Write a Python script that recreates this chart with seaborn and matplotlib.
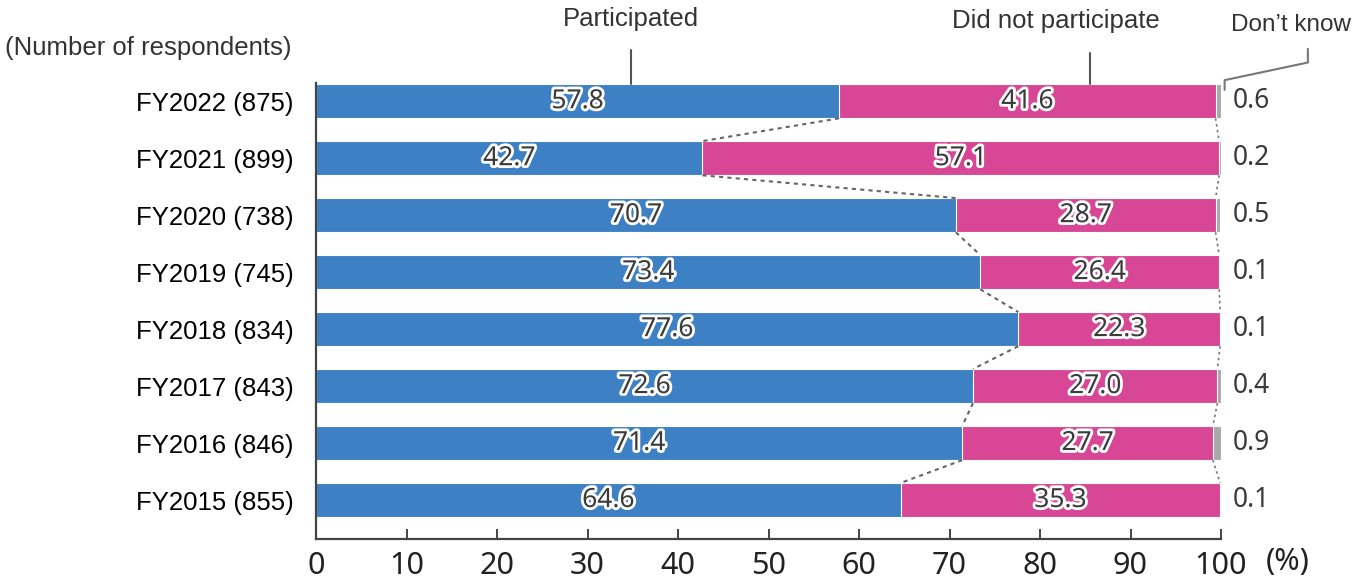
import matplotlib
matplotlib.use("Agg")
import matplotlib.pyplot as plt
import matplotlib.patheffects as pe
import seaborn as sns
import pandas as pd

years = ["FY2022 (875)", "FY2021 (899)", "FY2020 (738)", "FY2019 (745)",
         "FY2018 (834)", "FY2017 (843)", "FY2016 (846)", "FY2015 (855)"]
participated = [57.8, 42.7, 70.7, 73.4, 77.6, 72.6, 71.4, 64.6]
not_participated = [41.6, 57.1, 28.7, 26.4, 22.3, 27.0, 27.7, 35.3]
dont_know = [0.6, 0.2, 0.5, 0.1, 0.1, 0.4, 0.9, 0.1]
x_ticks = [0, 10, 20, 30, 40, 50, 60, 70, 80, 90, 100]

BLUE = "#3d80c4"
PINK = "#d84795"
GREY = "#a9a9a9"
DARK = "#333333"

df = pd.DataFrame({"year": years, "p": participated,
                   "n": not_participated, "d": dont_know})
df["pn"] = df["p"] + df["n"]
df["total"] = df["pn"] + df["d"]

sns.set_theme(style="white")
plt.rcParams["font.family"] = ["Liberation Sans", "DejaVu Sans"]
NUM_FONT = ["Noto Sans", "DejaVu Sans"]

fig = plt.figure(figsize=(13.57, 5.8), dpi=100)
ax = fig.add_axes([316 / 1357, 1 - 539 / 580, (1221 - 316) / 1357, (539 - 83) / 580])

bar_w = 0.6
common = dict(data=df, y="year", orient="h", width=bar_w, ax=ax,
              saturation=1, edgecolor="white", linewidth=0.8)
# stacked by overdrawing cumulative totals
sns.barplot(x="total", color=GREY, **common)
sns.barplot(x="pn", color=PINK, **common)
sns.barplot(x="p", color=BLUE, **common)

ax.set_xlim(0, 100)
ax.set_ylim(len(years) - 1 + 0.684, -0.32)
ax.set_xlabel("")
ax.set_ylabel("")

# axes styling
for s in ["top", "right"]:
    ax.spines[s].set_visible(False)
for s in ["left", "bottom"]:
    ax.spines[s].set_color("#444444")
    ax.spines[s].set_linewidth(1.6)
ax.set_xticks(x_ticks)
ax.set_xticklabels([str(t) for t in x_ticks], family=NUM_FONT,
                   fontsize=22, color="#222222")
ax.tick_params(axis="x", direction="in", length=7.5, width=1.4, color="#444444",
               pad=9, bottom=True)
ax.tick_params(axis="y", length=0, pad=16, labelsize=18.5, labelcolor="black")
ax.annotate("(%)", xy=(1, 0), xycoords="axes fraction", xytext=(32, -6),
            textcoords="offset points", family=NUM_FONT, fontsize=22,
            color="#222222", ha="left", va="top", annotation_clip=False)

# value labels
halo = [pe.withStroke(linewidth=4, foreground="white")]
for i, r in df.iterrows():
    ax.text(r["p"] / 2, i, f"{r['p']:.1f}", ha="center", va="center",
            fontsize=19, color="#3a3a3a", path_effects=halo, family=NUM_FONT)
    ax.text(r["p"] + r["n"] / 2, i, f"{r['n']:.1f}", ha="center", va="center",
            fontsize=19, color="#3a3a3a", path_effects=halo, family=NUM_FONT)
    ax.text(101.3, i, f"{r['d']:.1f}", ha="left", va="center", fontsize=19,
            color="#3a3a3a", family=NUM_FONT, clip_on=False)

# dashed connectors between consecutive bars
h = bar_w / 2
for i in range(len(years) - 1):
    a, b = df.loc[i], df.loc[i + 1]
    ax.plot([a["p"], b["p"]], [i + h, i + 1 - h], ls=(0, (2, 2)), lw=1.5,
            color="#666666", clip_on=False)
    ax.plot([a["pn"], b["pn"]], [i + h, i + 1 - h], ls=(0, (1.5, 2)), lw=1.2,
            color="#777777", clip_on=False)

# category headers with leader lines
head_kw = dict(fontsize=18.5, color=DARK, clip_on=False)
ax.text(34.8, -1.45, "Participated", ha="center", va="center", **head_kw)
ax.plot([34.8, 34.8], [-0.9, -h], color="#555555", lw=1.5, clip_on=False)
ax.text(81.8, -1.41, "Did not participate", ha="center", va="center", **head_kw)
ax.plot([85.5, 85.5], [-0.85, -h], color="#555555", lw=1.5, clip_on=False)
ax.text(101.1, -1.33, "Don’t know", ha="left", va="center",
        **{**head_kw, "fontsize": 17.5})
ax.plot([109.6, 109.6, 100.4, 100.4], [-0.92, -0.68, -0.37, -0.2],
        color="#777777", lw=1.5, clip_on=False)
ax.text(-34.4, -0.93, "(Number of respondents)", ha="left", va="center",
        **head_kw)

fig.savefig("out.png", dpi=100)
